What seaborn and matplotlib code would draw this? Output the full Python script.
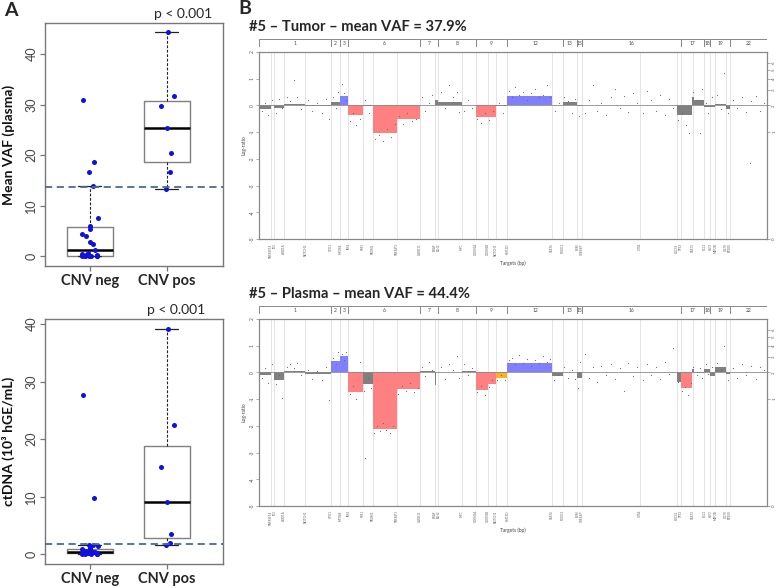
import numpy as np
import pandas as pd
import matplotlib
matplotlib.use("Agg")
import matplotlib.pyplot as plt
import seaborn as sns

sns.set_theme(style="white")
plt.rcParams["font.family"] = ["Lato", "DejaVu Sans"]

# ---------------- Panel A data ----------------
groups = ["CNV neg", "CNV pos"]
vaf_neg = [30.8, 18.6, 16.7, 13.9, 7.5, 6.0, 5.5, 4.5, 4.0, 2.8, 2.5, 1.3,
           0.6, 0.5, 0.3, 0.2, 0.1, 0.1, 0.0, 0.0, 0.0, 0.0, 0.0]
vaf_pos = [44.3, 31.6, 29.8, 25.4, 20.5, 16.6, 13.4]
ctdna_neg = [27.7, 9.8, 1.6, 1.5, 1.4, 1.0, 0.85, 0.8, 0.6, 0.5, 0.4, 0.3,
             0.25, 0.2, 0.2, 0.15, 0.1, 0.1, 0.05, 0.0, 0.0, 0.0, 0.0]
ctdna_pos = [39.1, 22.5, 15.1, 9.1, 3.4, 2.0, 1.6]
vaf_cutoff = 13.7
ctdna_cutoff = 1.8
p_text = "p < 0.001"

# ---------------- Panel B data ----------------
chrom_names = ["1", "2", "3", "6", "7", "8", "9", "12", "13", "15", "16", "17", "18", "19", "22"]
chrom_bounds = [0, 72, 80.4, 89, 161, 179, 216.4, 248, 303.4, 317.7, 322.7, 421.7, 445, 451, 470.4, 508]

gene_pos = [11.7, 15, 25, 46, 72, 81, 89, 103.7, 113.4, 137.4, 161, 175.4, 179, 202.4, 216.4,
            228.4, 236.4, 248, 292.4, 303.4, 318, 322.7, 381, 417.4, 421.7, 433.4, 445, 451, 456, 467, 470.4]
gene_names = ["TNFRSF14", "ID3", "ARID1A", "NOTCH2", "XPO1", "MYD88", "IRF4", "PIM1", "PRDM1", "TNFAIP3",
              "CARD11", "BRAF", "EZH2", "MYC", "CDKN2A", "CDKN2B", "NOTCH1", "KMT2D", "STAT6", "FOXO1",
              "B2M", "CREBBP", "CIITA", "SOCS1", "TP53", "STAT3", "BCL2", "KLF2", "MEF2B", "CD70", "EP300"]

# segments: start position, log-ratio, call (n neutral, g gain, l loss, s subclonal)
tumor_seg_start = [0, 11.7, 15, 25, 46, 72, 81, 89, 103.7, 113.4, 137.4, 161, 175.4, 179, 202.4,
                   216.4, 236.4, 248, 292.4, 303.4, 317.7, 322.7, 417.4, 433, 435, 445, 456, 467, 470.4]
tumor_seg_value = [-0.15, 0.0, -0.1, 0.07, -0.03, 0.11, 0.37, -0.34, -0.02, -1.05, -0.49, 0.02, 0.2, 0.12, 0.02,
                   -0.42, -0.02, 0.37, 0.01, 0.12, -0.03, 0.02, -0.35, 0.33, 0.2, -0.05, 0.05, -0.12, 0.0]
tumor_seg_call = ["n", "n", "n", "n", "n", "n", "g", "l", "n", "l", "l", "n", "n", "n", "n",
                  "l", "n", "g", "n", "n", "n", "n", "n", "n", "n", "n", "n", "n", "n"]

plasma_seg_start = [0, 11.7, 15, 25, 46, 72, 81, 89, 103.7, 113.4, 137.4, 161, 175.4, 176.7, 202.4,
                    216.4, 229, 236.4, 248, 292.4, 303.4, 318, 322.7, 417.4, 421.7, 433, 435, 445, 451, 456,
                    467, 470.4]
plasma_seg_value = [-0.1, 0.0, -0.27, 0.07, -0.07, 0.42, 0.6, -0.73, -0.43, -2.1, -0.62, 0.05, -0.48, 0.02, 0.06,
                    -0.65, -0.42, -0.22, 0.35, -0.14, 0.01, -0.22, 0.01, -0.35, -0.6, 0.13, -0.03, 0.14, -0.12, 0.22,
                    -0.05, 0.0]
plasma_seg_call = ["n", "n", "n", "n", "n", "g", "g", "l", "n", "l", "l", "n", "n", "n", "n",
                   "l", "l", "s", "g", "n", "n", "n", "n", "n", "l", "n", "n", "n", "n", "n",
                   "n", "n"]

# per-target log-ratios (dots)
tumor_dot_x = [3, 6, 9, 13, 17, 20, 23, 28, 31, 35, 38, 42, 49, 53, 58, 63, 67, 70,
               74, 77, 79, 83, 85, 87,
               91, 94, 97, 101, 106, 110, 116, 120, 124, 128, 132, 136, 140, 144, 148, 153, 157,
               163, 166, 170, 173, 182, 186, 190, 194, 198, 200, 205, 209, 213,
               218, 222, 226, 230, 234, 240, 244,
               250, 253, 256, 260, 264, 268, 272, 276, 280, 284, 288, 291, 296, 300,
               305, 309, 313, 316, 320,
               326, 330, 334, 338, 342, 347, 352, 356, 361, 365, 369, 374, 378, 384, 388, 392, 397, 401, 406, 410, 414,
               419, 423, 427, 430, 434, 438, 441, 443, 447, 449, 453, 458, 462, 465, 469, 474, 478, 483, 487, 491,
               492, 497, 501, 505]
tumor_dot_y = [-0.2, 0.1, -0.35, 0.2, -0.3, 0.25, -0.1, 0.3, 0.15, 0.94, 0.3, -0.15, 0.2, -0.2, 0.1, -0.3, 0.25, -0.5,
               0.3, -0.1, 0.5, 0.8, 0.45, 0.2,
               -0.6, -0.3, -0.75, -0.5, 0.2, -0.3, -1.25, -1.1, -1.35, -0.9, -1.2, -0.7, -0.4, -0.7, -0.3, -0.6, -0.5,
               0.3, -0.2, 0.1, 0.4, 0.5, -0.1, 0.78, 0.3, 0.5, -0.25, -0.2, 0.2, -0.1,
               -0.5, -0.65, -0.3, -0.55, -0.2, 0.1, -0.3,
               0.55, 0.3, 0.7, 0.4, 0.5, 0.2, 0.45, 0.6, 0.3, 0.4, 0.75, 0.3, -0.2, 0.1,
               0.3, 0.15, -0.3, 0.25, -0.4,
               -0.3, 0.2, 0.75, -0.2, 0.1, -0.35, 0.3, 0.6, -0.1, 0.35, -0.25, 0.45, 0.1, -0.3, 0.55, 0.2, -0.2, 0.4,
               -0.35, 0.25, -0.1,
               -0.55, -0.3, -0.75, -1.05, 0.5, 0.2, -1.05, 0.6, 0.1, -0.3, 0.3, 0.4, -0.15, 1.2, -0.3, 0.2, -0.1, 0.3,
               -0.25, -2.15, 0.15, 0.35, -0.2, 0.1]

plasma_dot_x = [3, 6, 9, 13, 17, 20, 23, 28, 31, 35, 38, 42, 49, 53, 58, 63, 67, 70,
                74, 77, 79, 83, 85, 87,
                91, 94, 97, 101, 105, 106, 109, 112, 115, 118, 121, 124, 127, 131, 134, 139, 143, 147, 151, 155, 159,
                163, 166, 170, 173, 182, 186, 190, 194, 198, 200, 205, 209, 213,
                218, 222, 226, 230, 233, 238, 242, 246,
                250, 253, 256, 260, 264, 268, 272, 276, 280, 284, 288, 291, 295, 299,
                305, 309, 313, 316, 319, 321,
                326, 330, 334, 338, 342, 347, 352, 356, 361, 365, 369, 374, 378, 384, 388, 392, 397, 401, 406, 410, 414,
                419, 423, 426, 429, 432, 434, 438, 441, 443, 447, 449, 453, 458, 462, 465, 469, 474, 478, 483, 487,
                492, 497, 501, 505]
plasma_dot_y = [-0.2, 0.15, -0.4, 0.3, -0.45, -0.1, -0.95, 0.2, 0.3, 0.15, 0.35, -0.1, 0.1, -0.25, 0.05, -0.3, 0.2,
                -1.05,
                0.55, 0.3, 0.75, 0.7, 0.45, 0.75,
                -0.8, -0.5, -1.0, 0.4, -0.7, -3.2, -0.2, -0.6, -2.25, -2.0, -2.2, -1.9, -2.15, -2.25, -2.0, -0.8, -0.5,
                -0.7, -0.4, -0.75, -0.6,
                0.2, -0.15, 0.4, 0.1, 0.2, -0.25, 0.3, 0.1, 0.6, -0.2, 0.3, -0.1, 0.15,
                -0.75, -0.5, -0.85, -0.55, -0.3, -0.3, -0.1, -0.3,
                0.45, 0.55, 0.3, 0.65, 0.35, 0.5, 0.25, 0.45, 0.35, 0.6, 0.4, 0.5, -0.3, -0.1,
                0.2, -0.2, 0.1, -0.25, -0.6, 0.4,
                0.7, -0.2, 0.2, -0.35, 0.25, -0.1, 0.3, -0.25, 0.15, -0.7, 0.35, -0.15, 0.2, -0.3, 0.3, -0.1, 0.2,
                -0.25, 0.4, -0.05, 0.9,
                -0.35, -0.7, -0.55, -0.85, -0.4, 0.2, -0.1, 0.15, -0.2, 0.3, -0.05, 0.2, 0.35, 0.1, 1.0, -0.3, 0.15,
                -0.2, 0.3, -0.1, 0.25, -0.25, 0.2, 0.1]

call_colors = {"n": "#808080", "g": "#8080ff", "l": "#ff8080", "s": "#ffb020"}
copy_numbers = [0, 1, 2, 3, 4, 5, 6]

fig = plt.figure(figsize=(7.8, 5.88), dpi=100)


def px_axes(left, top, right, bottom):
    return fig.add_axes([left / 780, 1 - bottom / 588, (right - left) / 780, (bottom - top) / 588])


# ---------------- Panel A ----------------
def box_panel(ax, neg, pos, cutoff, ylabel, ylim, ptext_x):
    df = pd.DataFrame({"group": [groups[0]] * len(neg) + [groups[1]] * len(pos),
                       "value": neg + pos})
    sns.boxplot(data=df, x="group", y="value", order=groups, ax=ax, width=0.6, fill=False,
                color="#808080", linewidth=1.0, showfliers=False, whis=1.5,
                boxprops=dict(color="#808080", linewidth=1.0),
                whiskerprops=dict(color="#222222", linestyle=(0, (2.5, 1.5)), linewidth=0.8),
                capprops=dict(color="#222222", linewidth=0.9),
                medianprops=dict(color="black", linewidth=1.8))
    np.random.seed(7)
    sns.stripplot(data=df, x="group", y="value", order=groups, ax=ax, color="#1010e0",
                  size=3.6, jitter=0.11, linewidth=0, zorder=3)
    ax.axhline(cutoff, color="#4d6b8c", ls=(0, (4, 2.5)), lw=1.3, zorder=4)
    ax.set_xlim(-0.58, 1.73)
    ax.set_ylim(*ylim)
    ax.set_yticks([0, 10, 20, 30, 40])
    ax.set_xlabel("")
    ax.set_ylabel(ylabel, fontsize=10, fontweight="bold", color="#111111")
    ax.yaxis.set_label_coords(-0.17, 0.5)
    ax.tick_params(left=True, bottom=True, length=3.5, color="#777777", direction="out", width=0.9)
    ax.tick_params(axis="y", labelsize=9, labelcolor="#444444", pad=2)
    ax.tick_params(axis="x", labelsize=10.5, pad=2.5)
    for t in ax.get_yticklabels():
        t.set_rotation(90)
        t.set_va("center")
    for t in ax.get_xticklabels():
        t.set_fontweight("bold")
    for s in ax.spines.values():
        s.set_color("#777777")
        s.set_linewidth(1.0)
    ax.text(ptext_x, 1.012, p_text, transform=ax.transAxes, ha="right", va="bottom", fontsize=10)


ax_vaf = px_axes(45, 23, 223, 266)
box_panel(ax_vaf, vaf_neg, vaf_pos, vaf_cutoff, "Mean VAF (plasma)", (-1.9, 46.1), 0.94)

ax_ct = px_axes(45, 319, 223, 564)
box_panel(ax_ct, ctdna_neg, ctdna_pos, ctdna_cutoff, "ctDNA (10³ hGE/mL)", (-1.74, 40.9), 0.9)


# ---------------- Panel B ----------------
def cnv_panel(ax, band, title, title_y, starts, values, calls, dx, dy):
    ends = starts[1:] + [chrom_bounds[-1]]
    seg = pd.DataFrame({"start": starts, "end": ends, "value": values, "call": calls})
    ax.vlines(gene_pos, -5, 2, color="#e4e4e4", lw=0.7, zorder=0)
    ax.bar(seg["start"], seg["value"], width=seg["end"] - seg["start"], align="edge",
           color=[call_colors[c] for c in seg["call"]], linewidth=0, zorder=1)
    ax.axhline(0, color="#8a8a8a", lw=0.6, zorder=1)
    sns.scatterplot(x=dx, y=dy, ax=ax, s=0.7, color="#666666", linewidth=0, zorder=2)
    ax.set_xlim(chrom_bounds[0], chrom_bounds[-1])
    ax.set_ylim(-5, 2)
    ax.set_yticks(range(-5, 3))
    ax.set_yticklabels([str(v) for v in range(-5, 3)], rotation=90, va="center")
    ax.set_xticks(gene_pos)
    ax.set_xticklabels(gene_names, rotation=90, va="top")
    ax.tick_params(axis="x", length=0, pad=3, labelsize=2.2, labelcolor="#666666")
    ax.tick_params(axis="y", left=True, length=2, width=0.5, color="#888888", pad=1.5,
                   labelsize=3.5, labelcolor="#555555")
    ax.set_xlabel("Targets (bp)", fontsize=3.5, color="#444444", labelpad=2)
    ax.set_ylabel("Log-ratio", fontsize=3.5, color="#444444", labelpad=2)
    for s in ax.spines.values():
        s.set_color("#888888")
        s.set_linewidth(0.9)

    right = ax.twinx()
    right.set_ylim(-5, 2)
    cn_pos = [-5] + [np.log2(c / 2) for c in copy_numbers[1:]]
    right.set_yticks(cn_pos)
    right.set_yticklabels([str(c) for c in copy_numbers], rotation=90, va="center")
    right.tick_params(axis="y", right=True, length=2, width=0.5, color="#888888", pad=1.5,
                      labelsize=3.2, labelcolor="#555555")
    right.grid(False)
    for s in right.spines.values():
        s.set_visible(False)

    widths = np.diff(chrom_bounds)
    band.bar(chrom_bounds[:-1], [1] * len(chrom_names), width=widths, align="edge",
             color="white", edgecolor="#888888", linewidth=0.7)
    for name, a, b in zip(chrom_names, chrom_bounds[:-1], chrom_bounds[1:]):
        band.text((a + b) / 2, 0.5, name, ha="center", va="center", fontsize=3.6, color="#444444")
    band.set_xlim(chrom_bounds[0], chrom_bounds[-1])
    band.set_ylim(0, 1)
    band.axis("off")

    fig.text(249 / 780, 1 - title_y / 588, title, fontsize=10.6, fontweight="bold", va="center")


ax_tum = px_axes(259.3, 52, 767.3, 239)
band_tum = px_axes(259.3, 39.3, 767.3, 47)
cnv_panel(ax_tum, band_tum, "#5 \u2013 Tumor \u2013 mean VAF = 37.9%", 27,
          tumor_seg_start, tumor_seg_value, tumor_seg_call, tumor_dot_x, tumor_dot_y)

ax_pla = px_axes(259.3, 319, 767.3, 506)
band_pla = px_axes(259.3, 306, 767.3, 314)
cnv_panel(ax_pla, band_pla, "#5 \u2013 Plasma \u2013 mean VAF = 44.4%", 294,
          plasma_seg_start, plasma_seg_value, plasma_seg_call, plasma_dot_x, plasma_dot_y)

fig.text(4 / 780, 1 - 10 / 588, "A", fontsize=14, fontweight="bold", va="center")
fig.text(238 / 780, 1 - 8 / 588, "B", fontsize=14, fontweight="bold", va="center")

fig.savefig("out.png", dpi=100)
